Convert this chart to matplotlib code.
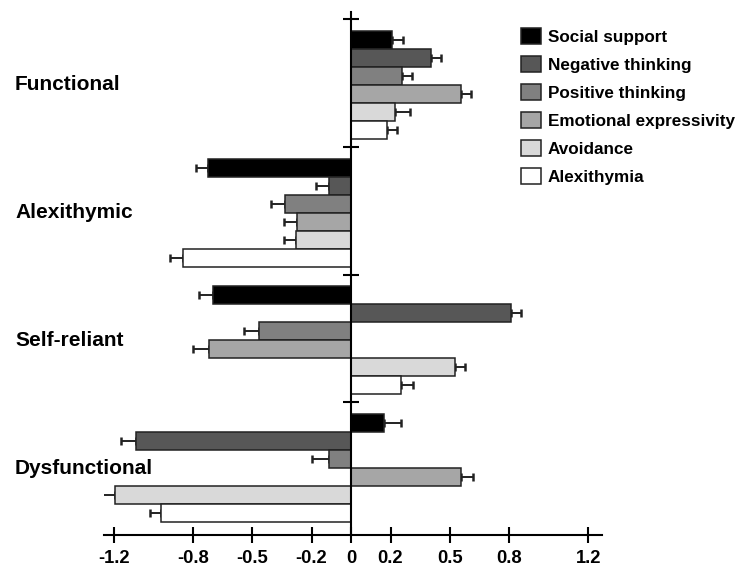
import matplotlib
matplotlib.use("Agg")
import matplotlib.pyplot as plt
import matplotlib.transforms as mtransforms
import numpy as np

plt.rcParams['font.family'] = ['Liberation Sans', 'DejaVu Sans']
plt.rcParams['font.weight'] = 'bold'

# Data
groups = ['Functional', 'Alexithymic', 'Self-reliant', 'Dysfunctional']
factors = ['Social support', 'Negative thinking', 'Positive thinking',
           'Emotional expressivity', 'Avoidance', 'Alexithymia']
functional = [0.205, 0.405, 0.26, 0.555, 0.22, 0.18]
alexithymic = [-0.725, -0.11, -0.335, -0.275, -0.28, -0.85]
self_reliant = [-0.70, 0.81, -0.465, -0.72, 0.525, 0.255]
dysfunctional = [0.165, -1.09, -0.11, 0.555, -1.195, -0.96]
err_functional = [0.056, 0.048, 0.048, 0.051, 0.077, 0.051]
err_alexithymic = [0.06, 0.068, 0.068, 0.065, 0.06, 0.068]
err_self_reliant = [0.067, 0.051, 0.079, 0.082, 0.051, 0.06]
err_dysfunctional = [0.087, 0.072, 0.085, 0.06, 0.077, 0.058]
xticks = [-1.2, -0.8, -0.5, -0.2, 0, 0.2, 0.5, 0.8, 1.2]
xticklabels = ['-1.2', '-0.8', '-0.5', '-0.2', '0', '0.2', '0.5', '0.8', '1.2']

values = [functional, alexithymic, self_reliant, dysfunctional]
errors = [err_functional, err_alexithymic, err_self_reliant, err_dysfunctional]
colors = ['#000000', '#575757', '#808080', '#a6a6a6', '#d9d9d9', '#ffffff']
edge = '#222222'
pitch = 7.1

fig = plt.figure(figsize=(7.39, 5.67), dpi=100)
ax = fig.add_axes([104 / 739, 1 - 535 / 567, 498 / 739, 523.3 / 567])

for j, fac in enumerate(factors):
    ys = np.array([g * pitch + j for g in range(len(groups))])
    vals = np.array([v[j] for v in values])
    errs = np.array([e[j] for e in errors])
    lower = np.where(vals < 0, errs, 0)
    upper = np.where(vals >= 0, errs, 0)
    ax.errorbar(vals, ys, xerr=[lower, upper], fmt='none', ecolor=edge,
                elinewidth=1.4, capsize=3, capthick=1.8, zorder=1)
    ax.barh(ys, vals, height=1.0, color=colors[j], edgecolor=edge,
            linewidth=1.1, label=fac, zorder=2)

ax.set_xlim(-1.25, 1.27)
ax.set_ylim(27.52, -1.57)
ax.set_xticks(xticks)
ax.set_xticklabels(xticklabels)
ax.set_yticks([-1.15 + g * pitch for g in range(len(groups))])
ax.set_yticklabels([])

for s in ['top', 'right']:
    ax.spines[s].set_visible(False)
ax.spines['left'].set_position(('data', 0))
ax.spines['left'].set_linewidth(1.5)
ax.spines['bottom'].set_linewidth(1.5)
ax.spines['left'].set_zorder(3)
ax.tick_params(axis='x', direction='inout', length=12, width=1.5,
               labelsize=13.2, pad=5)
ax.tick_params(axis='y', direction='inout', length=12, width=1.5)

trans = mtransforms.blended_transform_factory(fig.transFigure, ax.transData)
for g, name in enumerate(groups):
    ax.text(15 / 739, g * pitch + 2.5, name, transform=trans, ha='left',
            va='center', fontsize=15, fontweight='bold')

fig.legend(loc='upper left', bbox_to_anchor=(521 / 739, 1 - 28 / 567),
           frameon=False, fontsize=12.3, handlelength=1.17, handleheight=1.05,
           labelspacing=0.66, handletextpad=0.4, borderpad=0, borderaxespad=0)

fig.savefig('out.png', dpi=100)
